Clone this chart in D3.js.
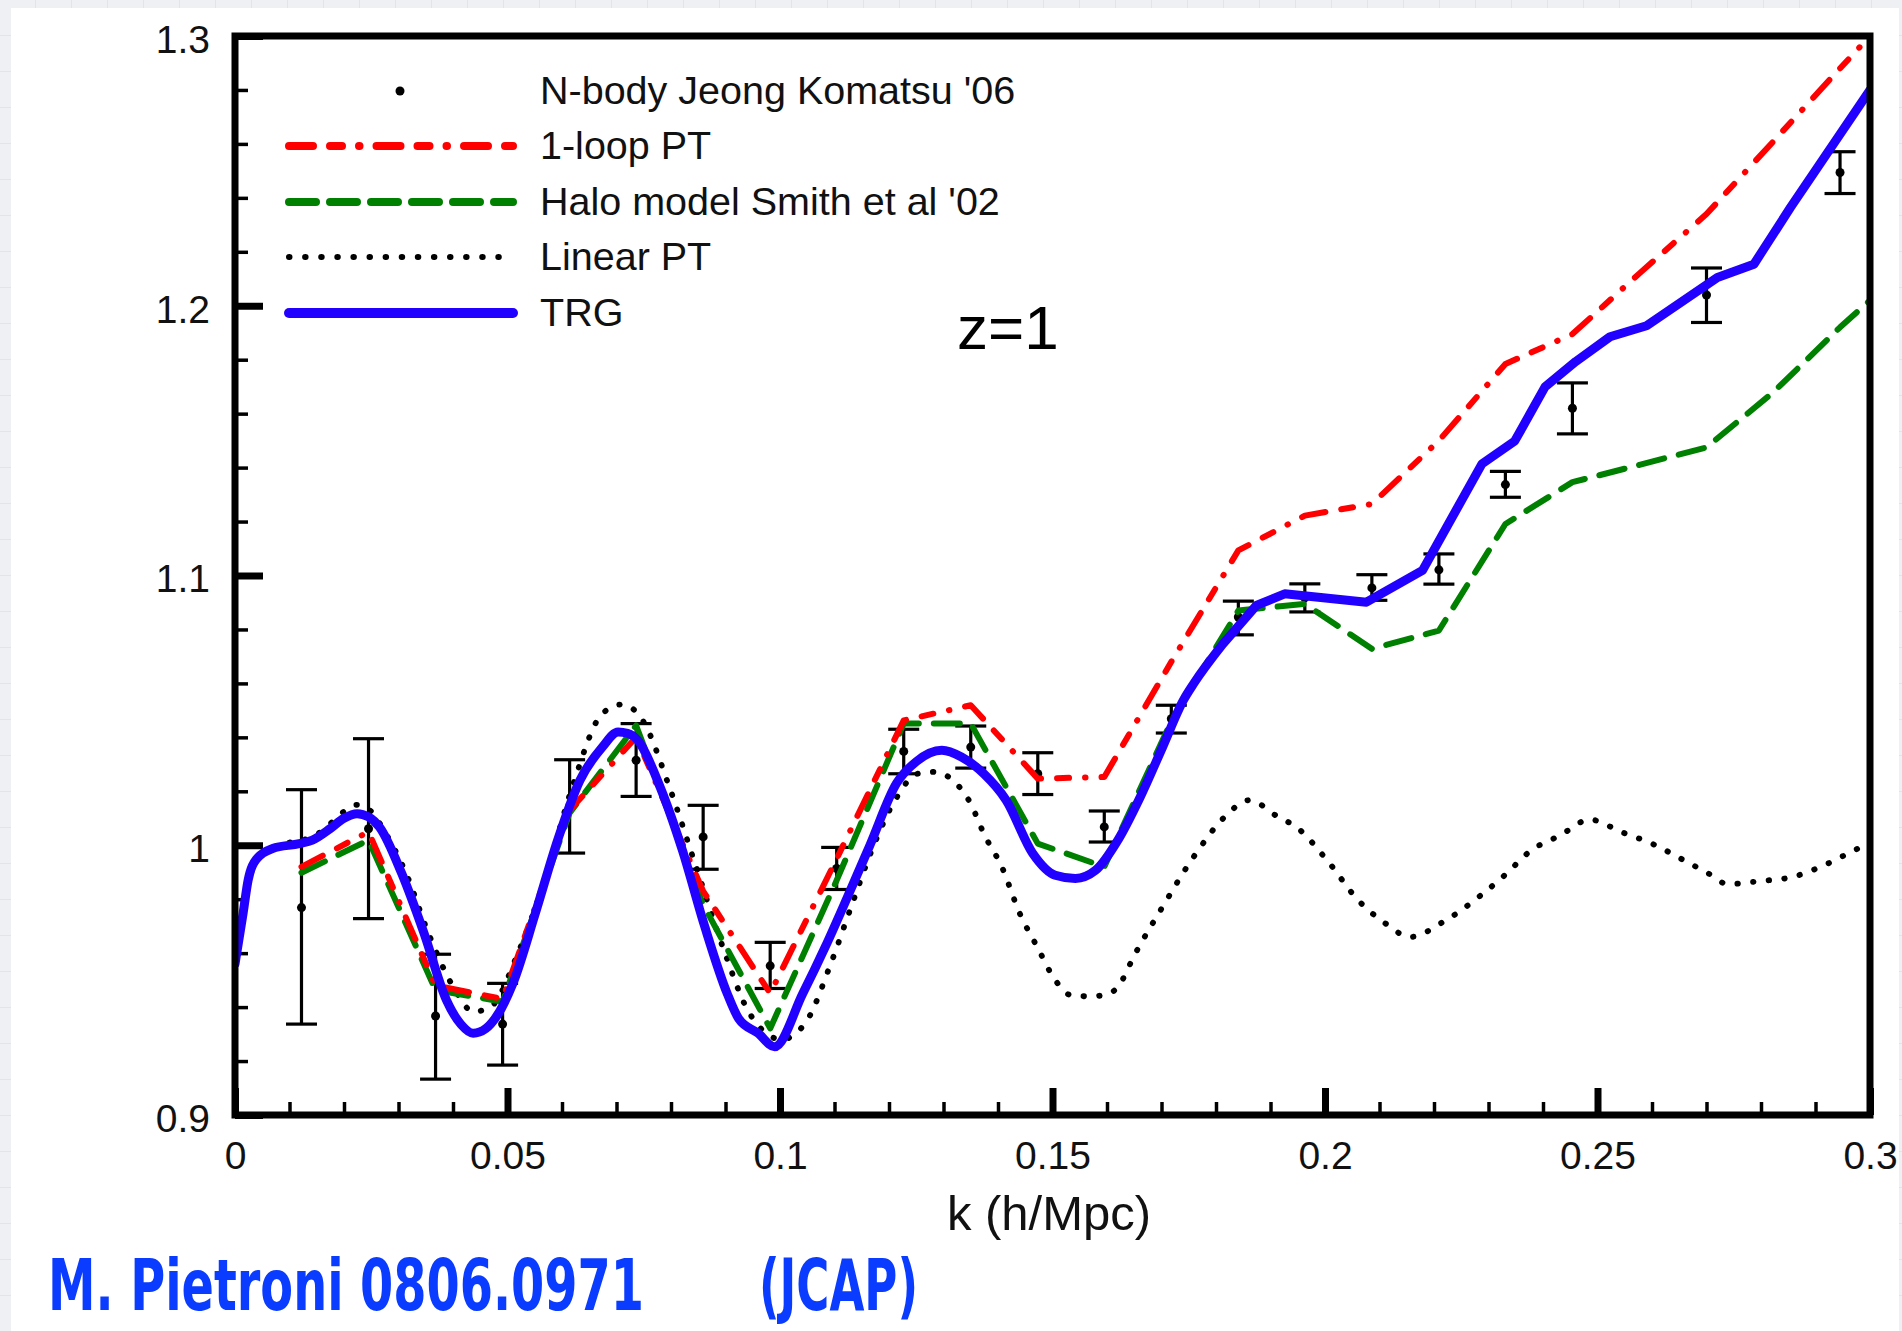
<!DOCTYPE html>
<html><head><meta charset="utf-8">
<script src="https://cdn.jsdelivr.net/npm/d3@7"></script>
<style>html,body{margin:0;padding:0;background:#fff;} svg{display:block}</style>
</head><body><svg id="c" width="1902" height="1331"></svg>
<script>
// ---------- DATA ----------
const xTickValues = [0, 0.05, 0.1, 0.15, 0.2, 0.25, 0.3];
const xTickLabels = ["0", "0.05", "0.1", "0.15", "0.2", "0.25", "0.3"];
const yTickValues = [0.9, 1.0, 1.1, 1.2, 1.3];
const yTickLabels = ["0.9", "1", "1.1", "1.2", "1.3"];
const seriesNames = ["N-body Jeong Komatsu '06", "1-loop PT", "Halo model Smith et al '02", "Linear PT", "TRG"];

// N-body points: [k, P/P_nw, lower, upper]
const nbody = [
  [0.0122, 0.9769, 0.9337, 1.0206], [0.0245, 1.0061, 0.9728, 1.0395],
  [0.0368, 0.9367, 0.9133, 0.9596], [0.0491, 0.9337, 0.9185, 0.9488],
  [0.0614, 1.0144, 0.9971, 1.0317], [0.0736, 1.0315, 1.0181, 1.0451],
  [0.0859, 1.0031, 0.9911, 1.0148], [0.0982, 0.9553, 0.9469, 0.9640],
  [0.1104, 0.9914, 0.9836, 0.9992], [0.1227, 1.0348, 1.0265, 1.0430],
  [0.1350, 1.0364, 1.0286, 1.0442], [0.1473, 1.0265, 1.0188, 1.0343],
  [0.1595, 1.0068, 1.0012, 1.0127], [0.1718, 1.0469, 1.0416, 1.0519],
  [0.1841, 1.0846, 1.0780, 1.0905], [0.1963, 1.0917, 1.0865, 1.0969],
  [0.2086, 1.0954, 1.0908, 1.1003], [0.2209, 1.1021, 1.0968, 1.1080],
  [0.2331, 1.1337, 1.1290, 1.1386], [0.2454, 1.1620, 1.1525, 1.1714],
  [0.2700, 1.2040, 1.1938, 1.2140], [0.2945, 1.2494, 1.2416, 1.2571]
];

// 1-loop PT (red dash-dot)
const oneLoop = [
  [0.0122, 0.9920], [0.0245, 1.0050], [0.0368, 0.9480], [0.0491, 0.9430],
  [0.0614, 1.0130], [0.0736, 1.0400], [0.0859, 0.9830], [0.0982, 0.9451],
  [0.1104, 0.9950], [0.1227, 1.0463], [0.1350, 1.0519], [0.1473, 1.0247],
  [0.1595, 1.0253], [0.1718, 1.0680], [0.1841, 1.1093], [0.1963, 1.1222],
  [0.2086, 1.1265], [0.2209, 1.1500], [0.2331, 1.1784], [0.2454, 1.1895],
  [0.2577, 1.2120], [0.2700, 1.2340], [0.2823, 1.2610], [0.2945, 1.2880],
  [0.3000, 1.3000]
];

// Halo model Smith et al '02 (green dashed)
const halo = [
  [0.0122, 0.9898], [0.0245, 1.0019], [0.0368, 0.9463], [0.0491, 0.9420],
  [0.0614, 1.0120], [0.0736, 1.0444], [0.0859, 0.9780], [0.0982, 0.9321],
  [0.1104, 0.9870], [0.1227, 1.0451], [0.1350, 1.0451], [0.1473, 1.0006],
  [0.1595, 0.9920], [0.1718, 1.0460], [0.1841, 1.0870], [0.1963, 1.0895],
  [0.2086, 1.0728], [0.2209, 1.0796], [0.2331, 1.1191], [0.2454, 1.1346],
  [0.2577, 1.1410], [0.2700, 1.1475], [0.2823, 1.1680], [0.2945, 1.1920],
  [0.3000, 1.2020]
];

// Linear PT (black dotted)
const linearPT = [
  [0.0100, 1.0010], [0.0150, 1.0040], [0.0175, 1.0080], [0.0200, 1.0125],
  [0.0224, 1.0150], [0.0250, 1.0125], [0.0273, 1.0056], [0.0314, 0.9895],
  [0.0355, 0.9673], [0.0404, 0.9463], [0.0437, 0.9383], [0.0469, 0.9401],
  [0.0519, 0.9599], [0.0568, 0.9870], [0.0617, 1.0204], [0.0674, 1.0488],
  [0.0711, 1.0522], [0.0748, 1.0463], [0.0797, 1.0216], [0.0846, 0.9920],
  [0.0895, 0.9623], [0.0944, 0.9377], [0.1003, 0.9280], [0.1050, 0.9352],
  [0.1091, 0.9549], [0.1132, 0.9780], [0.1170, 0.9990], [0.1211, 1.0167],
  [0.1252, 1.0265], [0.1284, 1.0272], [0.1317, 1.0241], [0.1350, 1.0154],
  [0.1374, 1.0043], [0.1407, 0.9920], [0.1440, 0.9747], [0.1472, 0.9623],
  [0.1505, 0.9500], [0.1534, 0.9444], [0.1565, 0.9440], [0.1595, 0.9444],
  [0.1620, 0.9475], [0.1652, 0.9599], [0.1702, 0.9772], [0.1759, 0.9957],
  [0.1816, 1.0105], [0.1861, 1.0167], [0.1914, 1.0105], [0.1947, 1.0068],
  [0.2004, 0.9944], [0.2061, 0.9796], [0.2111, 0.9710], [0.2156, 0.9660],
  [0.2217, 0.9716], [0.2290, 0.9821], [0.2332, 0.9893], [0.2377, 0.9979],
  [0.2431, 1.0036], [0.2486, 1.0095], [0.2544, 1.0049], [0.2602, 1.0004],
  [0.2656, 0.9947], [0.2710, 0.9888], [0.2738, 0.9856], [0.2797, 0.9867],
  [0.2859, 0.9883], [0.2916, 0.9926], [0.2971, 0.9981], [0.3000, 1.0009]
];

// TRG (blue solid): smooth part at low k, polyline part at high k
const trg = [
  [0.0000, 0.9560], [0.0015, 0.9750], [0.0024, 0.9870], [0.0040, 0.9950],
  [0.0069, 0.9988], [0.0118, 1.0006], [0.0142, 1.0019], [0.0175, 1.0062],
  [0.0200, 1.0100], [0.0224, 1.0117], [0.0245, 1.0105], [0.0265, 1.0068],
  [0.0306, 0.9895], [0.0347, 0.9673], [0.0388, 0.9426], [0.0415, 0.9335],
  [0.0437, 0.9303], [0.0460, 0.9320], [0.0478, 0.9360], [0.0510, 0.9488],
  [0.0551, 0.9747], [0.0592, 1.0019], [0.0633, 1.0241], [0.0674, 1.0364],
  [0.0703, 1.0420], [0.0720, 1.0415], [0.0739, 1.0389], [0.0780, 1.0216],
  [0.0821, 0.9981], [0.0862, 0.9698], [0.0903, 0.9451], [0.0924, 0.9358],
  [0.0960, 0.9303], [0.0990, 0.9253], [0.1042, 0.9451], [0.1083, 0.9623],
  [0.1124, 0.9809], [0.1165, 1.0000], [0.1214, 1.0230], [0.1250, 1.0310],
  [0.1297, 1.0352], [0.1333, 1.0327], [0.1374, 1.0265], [0.1415, 1.0167],
  [0.1464, 0.9969], [0.1505, 0.9889], [0.1542, 0.9877], [0.1579, 0.9907],
  [0.1620, 1.0019], [0.1661, 1.0179], [0.1702, 1.0364], [0.1740, 1.0537],
  [0.1759, 1.0599], [0.1813, 1.0747], [0.1874, 1.0889], [0.1926, 1.0932],
  [0.2076, 1.0901], [0.2179, 1.1019], [0.2288, 1.1414], [0.2348, 1.1498],
  [0.2404, 1.1700], [0.2460, 1.1793], [0.2523, 1.1885], [0.2590, 1.1926],
  [0.2720, 1.2105], [0.2787, 1.2154], [0.2854, 1.2364], [0.3000, 1.2800]
];
const trgSmoothUpTo = 0.1813;

// ---------- DRAW ----------
const W = 1902, H = 1331;
const svg = d3.select("#c");
const FONT = "'Liberation Sans', Arial, Helvetica, sans-serif";

// page background (light graph paper) + white card
const defs = svg.append("defs");
const pat = defs.append("pattern").attr("id", "grid").attr("width", 36).attr("height", 36)
  .attr("patternUnits", "userSpaceOnUse");
pat.append("rect").attr("width", 36).attr("height", 36).attr("fill", "#eef0f3");
pat.append("path").attr("d", "M36 0 V36 M0 36 H36").attr("stroke", "#dde2e8").attr("stroke-width", 1.5).attr("fill", "none");
svg.append("rect").attr("width", W).attr("height", H).attr("fill", "url(#grid)");
svg.append("rect").attr("x", 11).attr("y", 8).attr("width", 1888).attr("height", H - 8).attr("fill", "#ffffff");

const x = d3.scaleLinear().domain([0, 0.3]).range([235, 1870]);
const y = d3.scaleLinear().domain([0.9, 1.3]).range([1115, 36]);

defs.append("clipPath").attr("id", "plotclip").append("rect")
  .attr("x", x(0)).attr("y", y(1.3)).attr("width", x(0.3) - x(0)).attr("height", y(0.9) - y(1.3));

// minor ticks
const xMinor = d3.range(1, 30).map(i => i / 100).filter(v => Math.abs(v * 20 - Math.round(v * 20)) > 1e-6);
const yMinor = d3.range(0, 21).map(i => 0.9 + i * 0.02).filter(v => Math.abs(v * 10 - Math.round(v * 10)) > 1e-6);

const gxm = svg.append("g").attr("transform", `translate(0,${y(0.9)})`)
  .call(d3.axisBottom(x).tickValues(xMinor).tickSize(-13).tickFormat(""));
gxm.select(".domain").remove();
gxm.selectAll(".tick line").attr("stroke", "#000").attr("stroke-width", 3.5);

const gym = svg.append("g").attr("transform", `translate(${x(0)},0)`)
  .call(d3.axisLeft(y).tickValues(yMinor).tickSize(-13).tickFormat(""));
gym.select(".domain").remove();
gym.selectAll(".tick line").attr("stroke", "#000").attr("stroke-width", 3.5);

// major ticks + labels
const gx = svg.append("g").attr("transform", `translate(0,${y(0.9)})`)
  .call(d3.axisBottom(x).tickValues(xTickValues).tickSize(-27).tickPadding(26)
    .tickFormat((d, i) => xTickLabels[i]));
gx.select(".domain").remove();
gx.selectAll(".tick line").attr("stroke", "#000").attr("stroke-width", 7);
gx.selectAll(".tick text").attr("font-family", FONT).attr("font-size", 39).attr("fill", "#111");

const gy = svg.append("g").attr("transform", `translate(${x(0)},0)`)
  .call(d3.axisLeft(y).tickValues(yTickValues).tickSize(-28).tickPadding(25)
    .tickFormat((d, i) => yTickLabels[i]));
gy.select(".domain").remove();
gy.selectAll(".tick line").attr("stroke", "#000").attr("stroke-width", 7);
gy.selectAll(".tick text").attr("font-family", FONT).attr("font-size", 39).attr("fill", "#111")
  .attr("dy", "0.42em");

// error bars
const plot = svg.append("g").attr("clip-path", "url(#plotclip)");
const eb = plot.append("g").attr("stroke", "#000").attr("stroke-width", 3.2);
nbody.forEach(d => {
  const cx = x(d[0]);
  eb.append("line").attr("x1", cx).attr("x2", cx).attr("y1", y(d[2])).attr("y2", y(d[3]));
  eb.append("line").attr("x1", cx - 15.5).attr("x2", cx + 15.5).attr("y1", y(d[2])).attr("y2", y(d[2]));
  eb.append("line").attr("x1", cx - 15.5).attr("x2", cx + 15.5).attr("y1", y(d[3])).attr("y2", y(d[3]));
});
plot.append("g").selectAll("circle").data(nbody).join("circle")
  .attr("cx", d => x(d[0])).attr("cy", d => y(d[1])).attr("r", 4.5).attr("fill", "#000");

const smooth = d3.line().x(d => x(d[0])).y(d => y(d[1])).curve(d3.curveMonotoneX);
const straight = d3.line().x(d => x(d[0])).y(d => y(d[1]));

const styles = {
  lin: { stroke: "#000", width: 5.8, dash: "0.5 15.2" },
  halo: { stroke: "#008000", width: 6, dash: "26 15" },
  loop: { stroke: "#ff0000", width: 6, dash: "24 16 12 16 0.5 16" },
  trg: { stroke: "#2200ff", width: 9, dash: null }
};
function drawPath(d, s) {
  const p = plot.append("path").attr("d", d).attr("fill", "none")
    .attr("stroke", s.stroke).attr("stroke-width", s.width)
    .attr("stroke-linecap", "round").attr("stroke-linejoin", "round");
  if (s.dash) p.attr("stroke-dasharray", s.dash);
}
drawPath(smooth(linearPT), styles.lin);
drawPath(straight(halo), styles.halo);
drawPath(straight(oneLoop), styles.loop);
const trgA = trg.filter(d => d[0] <= trgSmoothUpTo);
const trgB = trg.filter(d => d[0] >= trgSmoothUpTo);
drawPath(smooth(trgA) + straight(trgB).replace(/^M/, "L"), styles.trg);

// frame
svg.append("rect").attr("x", x(0)).attr("y", y(1.3)).attr("width", x(0.3) - x(0)).attr("height", y(0.9) - y(1.3))
  .attr("fill", "none").attr("stroke", "#000").attr("stroke-width", 7);

// legend
const legRows = [91, 146, 202, 257, 313];
const lg = svg.append("g");
lg.append("circle").attr("cx", 400).attr("cy", legRows[0]).attr("r", 4.5).attr("fill", "#000");
const legStyles = [null,
  { stroke: "#ff0000", width: 8, dash: "24 17 12 17 0.5 17" },
  { stroke: "#008000", width: 8, dash: "27 14" },
  { stroke: "#000", width: 6, dash: "0.5 15.6" },
  { stroke: "#2200ff", width: 10, dash: null }];
legStyles.forEach((s, i) => {
  if (!s) return;
  const l = lg.append("line").attr("x1", 289).attr("x2", 513).attr("y1", legRows[i]).attr("y2", legRows[i])
    .attr("stroke", s.stroke).attr("stroke-width", s.width).attr("stroke-linecap", "round");
  if (s.dash) l.attr("stroke-dasharray", s.dash);
});
seriesNames.forEach((n, i) => {
  lg.append("text").attr("x", 540).attr("y", legRows[i] + 13).text(n)
    .attr("font-family", FONT).attr("font-size", 39.5).attr("fill", "#111");
});

// annotations
svg.append("text").attr("x", 957).attr("y", 349).text("z=1")
  .attr("font-family", FONT).attr("font-size", 62).attr("fill", "#000");
svg.append("text").attr("x", 1049).attr("y", 1230).attr("text-anchor", "middle").text("k (h/Mpc)")
  .attr("font-family", FONT).attr("font-size", 49).attr("fill", "#111");

const CREDIT = "'DejaVu Sans Condensed', 'DejaVu Sans', sans-serif";
svg.append("text").attr("transform", "translate(48,1310) scale(1,1.35)").text("M. Pietroni 0806.0971")
  .attr("font-family", CREDIT).attr("font-weight", "bold").attr("font-size", 53)
  .attr("textLength", 596).attr("lengthAdjust", "spacingAndGlyphs").attr("fill", "#0a3cff");
svg.append("text").attr("transform", "translate(759,1310) scale(1,1.35)").text("(JCAP)")
  .attr("font-family", CREDIT).attr("font-weight", "bold").attr("font-size", 53)
  .attr("textLength", 159).attr("lengthAdjust", "spacingAndGlyphs").attr("fill", "#0a3cff");
</script></body></html>
